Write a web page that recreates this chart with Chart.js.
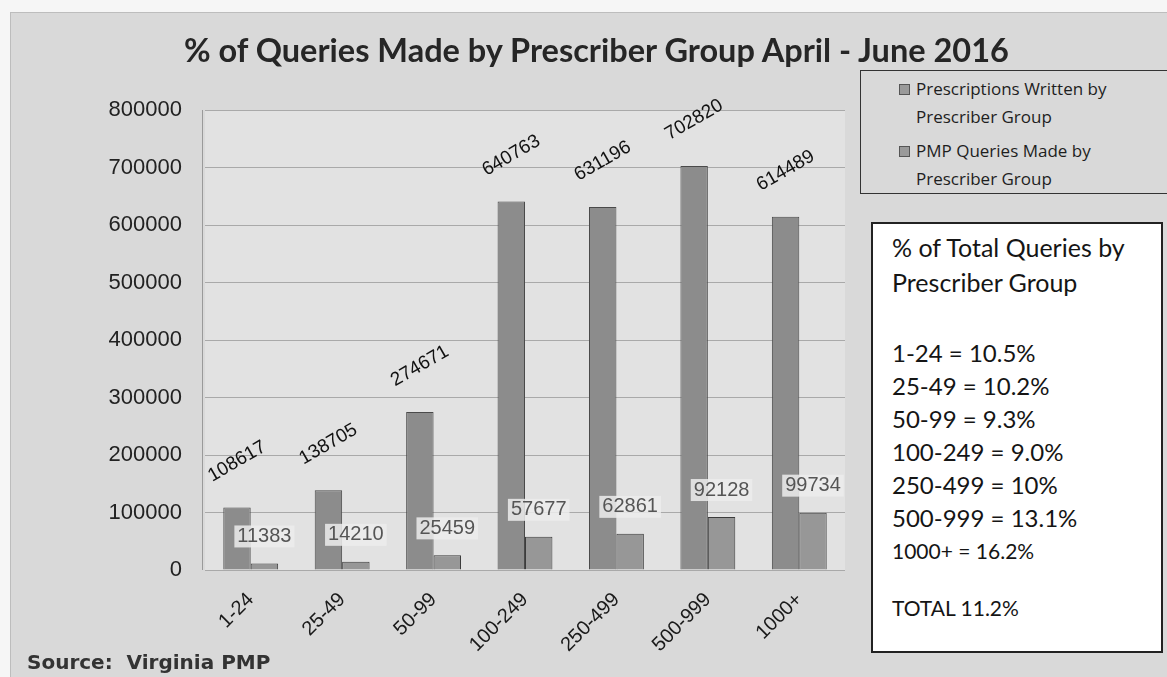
<!DOCTYPE html>
<html>
<head>
<meta charset="utf-8">
<script src="https://cdn.jsdelivr.net/npm/chart.js@4/dist/chart.umd.min.js"></script>
<style>
  html, body { margin: 0; padding: 0; background: #f6f6f6; }
  #wrap { position: relative; width: 1167px; height: 677px; overflow: hidden; }
  #frame { position: absolute; left: 10px; top: 12px; width: 1160px; height: 670px;
           background: #d9d9d9; border: 1px solid #bdbdbd; }
  canvas { position: absolute; left: 0; top: 0; }
  #title { position: absolute; left: 184px; top: 30px; font: bold 32.5px Lato, sans-serif;
           color: #262626; white-space: nowrap; }
  #legend { position: absolute; left: 860px; top: 70px; width: 320px; height: 124px;
            border: 1px solid #333; background: #d9d9d9; box-sizing: border-box;
            font: 17px "Open Sans", sans-serif; color: #1e1e1e; line-height: 28px; padding: 4px 0 0 55px; }
  #legend .item { position: relative; margin-bottom: 6px; }
  #legend .sw { position: absolute; left: -17px; top: 9px; width: 11px; height: 11px;
                border: 1px solid #555; background: #9a9a9a; box-sizing: border-box; }
  #box { position: absolute; left: 871px; top: 222px; width: 292px; height: 431px;
         background: #fff; border: 2px solid #222; box-sizing: border-box;
         font: 24px Lato, sans-serif; color: #151515; padding: 6px 0 0 19px; line-height: 33px; }
  #box .head { font-size: 25px; line-height: 35px; }
  #box .gap { height: 36px; }
  #box .small { font-size: 21px; line-height: 33px; }
  #box .gap2 { height: 24px; }
  #source { position: absolute; left: 27px; top: 650px; font: bold 20px "DejaVu Sans", sans-serif;
            color: #333; }
</style>
</head>
<body>
<div id="wrap">
  <div id="frame"></div>
  <canvas id="chart" width="1167" height="677"></canvas>
  <div id="title">% of Queries Made by Prescriber Group April - June 2016</div>
  <div id="legend">
    <div class="item"><span class="sw"></span>Prescriptions Written by<br>Prescriber Group</div>
    <div class="item"><span class="sw"></span>PMP Queries Made by<br>Prescriber Group</div>
  </div>
  <div id="box">
    <div class="head">% of Total Queries by</div>
    <div class="head">Prescriber Group</div>
    <div class="gap"></div>
    <div>1-24 = 10.5%</div>
    <div>25-49 = 10.2%</div>
    <div>50-99 = 9.3%</div>
    <div>100-249 = 9.0%</div>
    <div>250-499 = 10%</div>
    <div>500-999 = 13.1%</div>
    <div class="small">1000+ = 16.2%</div>
    <div class="gap2"></div>
    <div class="small">TOTAL 11.2%</div>
  </div>
  <div id="source">Source:&nbsp; Virginia PMP</div>
</div>
<script>
// categories and series
const groups = ['1-24', '25-49', '50-99', '100-249', '250-499', '500-999', '1000+'];
const prescriptions = [108617, 138705, 274671, 640763, 631196, 702820, 614489];
const queries = [11383, 14210, 25459, 57677, 62861, 92128, 99734];
const yTicks = [0, 100000, 200000, 300000, 400000, 500000, 600000, 700000, 800000];

// plot area background + left border
const plotBg = {
    id: 'plotBg',
    beforeDraw(chart) {
        const { ctx, chartArea: a } = chart;
        ctx.save();
        ctx.fillStyle = '#e2e2e2';
        ctx.fillRect(a.left, a.top, a.right - a.left, a.bottom - a.top);
        ctx.strokeStyle = '#9a9a9a';
        ctx.lineWidth = 1;
        ctx.beginPath();
        ctx.moveTo(a.left - 2.5, a.top);
        ctx.lineTo(a.left - 2.5, a.bottom);
        ctx.stroke();
        ctx.restore();
    }
};

// value labels above the bars
const barLabels = {
    id: 'barLabels',
    afterDatasetsDraw(chart) {
        const ctx = chart.ctx;
        ctx.save();
        // rotated labels for prescriptions
        chart.getDatasetMeta(0).data.forEach((bar, i) => {
            ctx.save();
            ctx.translate(bar.x, bar.y - 46);
            ctx.rotate(-30 * Math.PI / 180);
            ctx.font = '19px "Liberation Sans", sans-serif';
            ctx.fillStyle = '#111';
            ctx.textAlign = 'center';
            ctx.textBaseline = 'middle';
            ctx.fillText(String(prescriptions[i]), 0, 0);
            ctx.restore();
        });
        // flat labels for queries
        chart.getDatasetMeta(1).data.forEach((bar, i) => {
            const txt = String(queries[i]);
            ctx.font = '20px "Liberation Sans", sans-serif';
            const w = ctx.measureText(txt).width;
            const y = bar.y - 27;
            ctx.fillStyle = 'rgba(236,236,236,0.85)';
            ctx.fillRect(bar.x - w / 2 - 3, y - 11, w + 6, 22);
            ctx.fillStyle = '#555';
            ctx.textAlign = 'center';
            ctx.textBaseline = 'middle';
            ctx.fillText(txt, bar.x, y);
        });
        ctx.restore();
    }
};

new Chart(document.getElementById('chart'), {
    type: 'bar',
    data: {
        labels: groups,
        datasets: [{
            label: 'Prescriptions Written by Prescriber Group',
            data: prescriptions,
            backgroundColor: '#8c8c8c',
            borderColor: '#4a4a4a',
            borderWidth: 1,
            categoryPercentage: 0.6,
            barPercentage: 1.0
        }, {
            label: 'PMP Queries Made by Prescriber Group',
            data: queries,
            backgroundColor: '#979797',
            borderColor: '#3c3c3c',
            borderWidth: 1,
            categoryPercentage: 0.6,
            barPercentage: 1.0
        }]
    },
    options: {
        responsive: false,
        animation: false,
        layout: { padding: { left: 0, right: 322, top: 110, bottom: 0 } },
        plugins: {
            legend: { display: false },
            tooltip: { enabled: false }
        },
        scales: {
            y: {
                min: 0,
                max: 800000,
                afterFit(s) { s.width = 205; },
                afterBuildTicks(s) { s.ticks = yTicks.map(v => ({ value: v })); },
                border: { display: false },
                grid: { color: '#a9a9a9', drawTicks: false },
                ticks: {
                    padding: 23,
                    color: '#222',
                    font: { family: '"Liberation Sans", sans-serif', size: 22 },
                    callback: v => String(v)
                }
            },
            x: {
                afterFit(s) { s.height = 107; },
                border: { display: false },
                grid: { display: false },
                ticks: {
                    minRotation: 45,
                    maxRotation: 45,
                    padding: 10,
                    color: '#1a1a1a',
                    font: { family: '"Liberation Sans", sans-serif', size: 20 }
                }
            }
        }
    },
    plugins: [plotBg, barLabels]
});
</script>
</body>
</html>
